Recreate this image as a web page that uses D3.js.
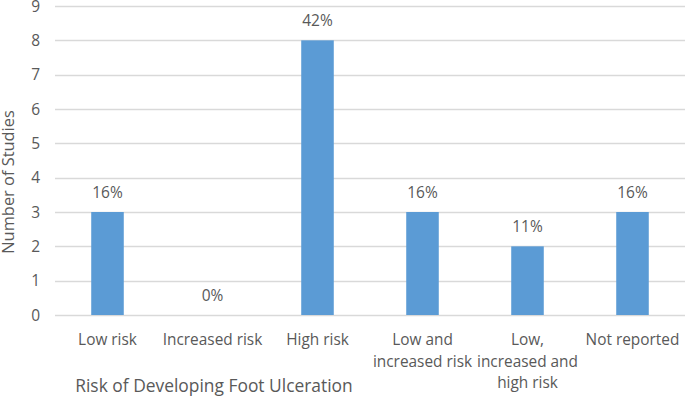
<!DOCTYPE html>
<html>
<head>
<meta charset="utf-8">
<script src="https://cdn.jsdelivr.net/npm/d3@7"></script>
<style>
  body { margin: 0; background: #fff; }
  text { font-family: 'Open Sans', sans-serif; fill: #595959; }
</style>
</head>
<body>
<div id="chart"></div>
<script>
'use strict';

const categories = [
    ['Low risk'],
    ['Increased risk'],
    ['High risk'],
    ['Low and', 'increased risk'],
    ['Low,', 'increased and', 'high risk'],
    ['Not reported']
];
const studies = [3, 0, 8, 3, 2, 3];
const percentLabels = ['16%', '0%', '42%', '16%', '11%', '16%'];
const yTicks = [0, 1, 2, 3, 4, 5, 6, 7, 8, 9];

const W = 685, H = 398;
const margin = { top: 6, right: 0, bottom: 83, left: 55 };

const svg = d3.select('#chart').append('svg')
    .attr('width', W)
    .attr('height', H);

const x = d3.scaleBand()
    .domain(d3.range(studies.length))
    .range([margin.left, W - margin.right])
    .paddingInner(0.69)
    .paddingOuter(0.345);

const y = d3.scaleLinear()
    .domain([0, 9])
    .range([H - margin.bottom, margin.top]);

// Gridlines
svg.append('g')
    .selectAll('line')
    .data(yTicks)
    .join('line')
    .attr('x1', margin.left)
    .attr('x2', W - margin.right)
    .attr('y1', d => Math.round(y(d)) + 0.5)
    .attr('y2', d => Math.round(y(d)) + 0.5)
    .attr('stroke', '#d9d9d9')
    .attr('stroke-width', 1.3);

// Y tick labels
svg.append('g')
    .selectAll('text')
    .data(yTicks)
    .join('text')
    .attr('x', 40)
    .attr('y', d => y(d))
    .attr('dy', '0.36em')
    .attr('text-anchor', 'end')
    .attr('font-size', 15.5)
    .text(d => d);

// Bars
svg.append('g')
    .selectAll('rect')
    .data(studies)
    .join('rect')
    .attr('x', (d, i) => x(i))
    .attr('y', d => y(d))
    .attr('width', x.bandwidth())
    .attr('height', d => y(0) - y(d))
    .attr('fill', '#5b9bd5');

// Value labels
svg.append('g')
    .selectAll('text')
    .data(studies)
    .join('text')
    .attr('x', (d, i) => x(i) + x.bandwidth() / 2)
    .attr('y', d => y(d) - 14)
    .attr('text-anchor', 'middle')
    .attr('font-size', 15.5)
    .text((d, i) => percentLabels[i]);

// Category labels (multi-line)
const catLabel = svg.append('g')
    .selectAll('text')
    .data(categories)
    .join('text')
    .attr('x', (d, i) => x(i) + x.bandwidth() / 2)
    .attr('y', y(0) + 30)
    .attr('text-anchor', 'middle')
    .attr('font-size', 15.4);

catLabel.selectAll('tspan')
    .data(d => d)
    .join('tspan')
    .attr('x', function () { return d3.select(this.parentNode).attr('x'); })
    .attr('dy', (d, i) => i === 0 ? 0 : 21.5)
    .text(d => d);

// Axis titles
svg.append('text')
    .attr('x', 214)
    .attr('y', 392)
    .attr('text-anchor', 'middle')
    .attr('font-size', 17.4)
    .text('Risk of Developing Foot Ulceration');

svg.append('text')
    .attr('transform', 'translate(14,182) rotate(-90)')
    .attr('text-anchor', 'middle')
    .attr('font-size', 16.4)
    .text('Number of Studies');
</script>
</body>
</html>
